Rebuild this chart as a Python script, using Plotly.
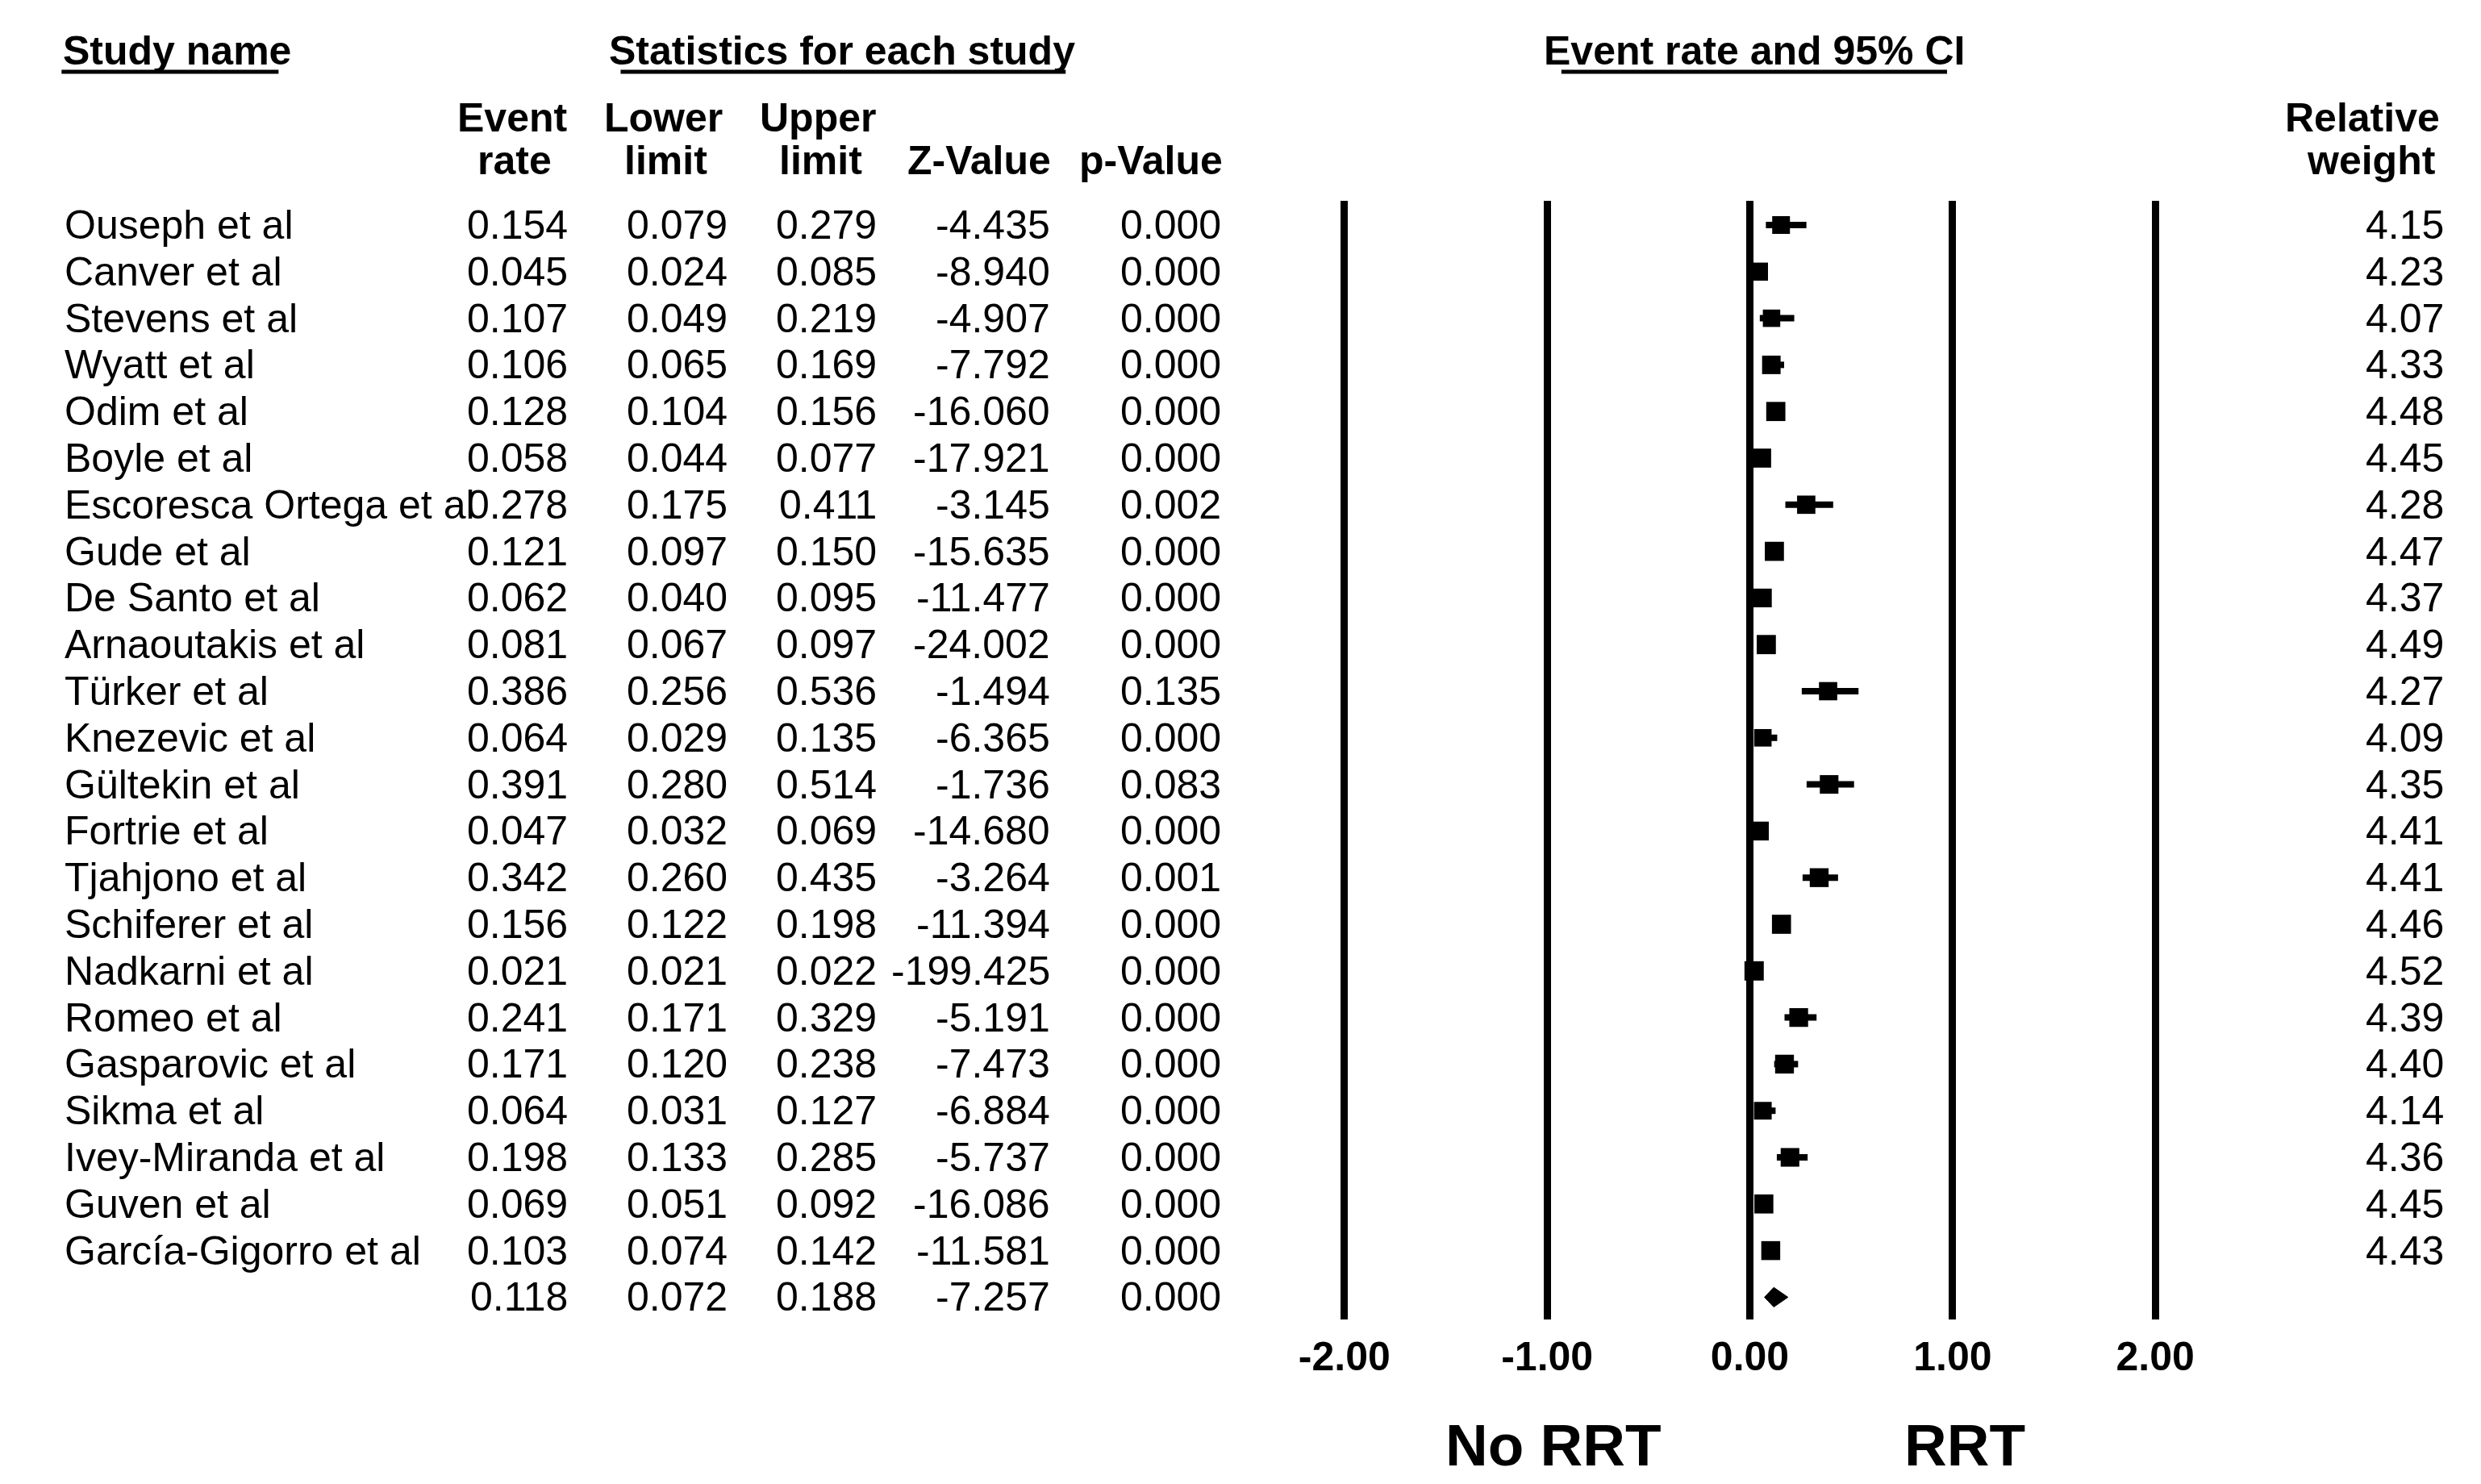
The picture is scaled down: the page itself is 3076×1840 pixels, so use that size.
import plotly.graph_objects as go

W, H = 3076, 1840

studies = ["Ouseph et al", "Canver et al", "Stevens et al", "Wyatt et al", "Odim et al",
           "Boyle et al", "Escoresca Ortega et al", "Gude et al", "De Santo et al",
           "Arnaoutakis et al", "Türker et al", "Knezevic et al", "Gültekin et al",
           "Fortrie et al", "Tjahjono et al", "Schiferer et al", "Nadkarni et al",
           "Romeo et al", "Gasparovic et al", "Sikma et al", "Ivey-Miranda et al",
           "Guven et al", "García-Gigorro et al"]
event_rate = [0.154, 0.045, 0.107, 0.106, 0.128, 0.058, 0.278, 0.121, 0.062, 0.081, 0.386,
              0.064, 0.391, 0.047, 0.342, 0.156, 0.021, 0.241, 0.171, 0.064, 0.198, 0.069, 0.103]
lower_limit = [0.079, 0.024, 0.049, 0.065, 0.104, 0.044, 0.175, 0.097, 0.040, 0.067, 0.256,
               0.029, 0.280, 0.032, 0.260, 0.122, 0.021, 0.171, 0.120, 0.031, 0.133, 0.051, 0.074]
upper_limit = [0.279, 0.085, 0.219, 0.169, 0.156, 0.077, 0.411, 0.150, 0.095, 0.097, 0.536,
               0.135, 0.514, 0.069, 0.435, 0.198, 0.022, 0.329, 0.238, 0.127, 0.285, 0.092, 0.142]
z_value = [-4.435, -8.940, -4.907, -7.792, -16.060, -17.921, -3.145, -15.635, -11.477, -24.002,
           -1.494, -6.365, -1.736, -14.680, -3.264, -11.394, -199.425, -5.191, -7.473, -6.884,
           -5.737, -16.086, -11.581]
p_value = [0.000, 0.000, 0.000, 0.000, 0.000, 0.000, 0.002, 0.000, 0.000, 0.000, 0.135, 0.000,
           0.083, 0.000, 0.001, 0.000, 0.000, 0.000, 0.000, 0.000, 0.000, 0.000, 0.000]
rel_weight = [4.15, 4.23, 4.07, 4.33, 4.48, 4.45, 4.28, 4.47, 4.37, 4.49, 4.27, 4.09, 4.35,
              4.41, 4.41, 4.46, 4.52, 4.39, 4.40, 4.14, 4.36, 4.45, 4.43]

summary_rate = 0.118
summary_lower = 0.072
summary_upper = 0.188
summary_z = -7.257
summary_p = 0.000

tick_values = [-2, -1, 0, 1, 2]
tick_labels = [f"{v:.2f}" for v in tick_values]

FONT = "Liberation Sans, Arial, sans-serif"
FS = 50

n = len(studies)
rows = list(range(n))
summary_row = n

fig = go.Figure()

# study squares with CI bars
fig.add_trace(go.Scatter(
    x=event_rate, y=rows, mode="markers",
    marker=dict(symbol="square", color="black", opacity=1,
                size=[5.3 * w for w in rel_weight], line=dict(width=0)),
    error_x=dict(type="data", symmetric=False,
                 array=[u - e for u, e in zip(upper_limit, event_rate)],
                 arrayminus=[e - l for e, l in zip(event_rate, lower_limit)],
                 color="black", thickness=8, width=0),
    showlegend=False, hoverinfo="skip"))

# summary diamond
dh = 0.21
fig.add_trace(go.Scatter(
    x=[summary_lower, summary_rate, summary_upper, summary_rate, summary_lower],
    y=[summary_row, summary_row - dh, summary_row, summary_row + dh, summary_row],
    mode="lines", fill="toself", fillcolor="black", line=dict(color="black", width=1),
    showlegend=False, hoverinfo="skip"))

def px(x):
    return x / W

def py(y):
    return 1 - y / H

ann = []
def add(text, x, y, anchor="left", size=FS, bold=False, yref="paper"):
    t = f"<b>{text}</b>" if bold else text
    ann.append(dict(text=t, x=x, y=y, xref="paper", yref=yref, xanchor=anchor,
                    yanchor="middle", showarrow=False,
                    font=dict(family=FONT, size=size, color="black")))

# Titles
add("Study name", px(37), py(55), "left", bold=True)
add("Statistics for each study", px(1023), py(55), "center", bold=True)
add("Event rate and 95% CI", px(2175), py(55), "center", bold=True)

# Column headers
add("Event", px(607), py(138), "center", bold=True)
add("rate", px(609), py(191), "center", bold=True)
add("Lower", px(797), py(138), "center", bold=True)
add("limit", px(800), py(191), "center", bold=True)
add("Upper", px(992), py(138), "center", bold=True)
add("limit", px(996), py(191), "center", bold=True)
add("Z-Value", px(1288), py(191), "right", bold=True)
add("p-Value", px(1505), py(191), "right", bold=True)
add("Relative", px(3042), py(138), "right", bold=True)
add("weight", px(3037), py(191), "right", bold=True)

col_right = [678, 880, 1068, 1287, 1503]
for i in rows:
    add(studies[i], px(39), i, "left", yref="y")
    vals = [f"{event_rate[i]:.3f}", f"{lower_limit[i]:.3f}", f"{upper_limit[i]:.3f}",
            f"{z_value[i]:.3f}", f"{p_value[i]:.3f}"]
    for v, xr in zip(vals, col_right):
        add(v, px(xr), i, "right", yref="y")
    add(f"{rel_weight[i]:.2f}", px(3047), i, "right", yref="y")

svals = [f"{summary_rate:.3f}", f"{summary_lower:.3f}", f"{summary_upper:.3f}",
         f"{summary_z:.3f}", f"{summary_p:.3f}"]
for v, xr in zip(svals, col_right):
    add(v, px(xr), summary_row, "right", yref="y")

add("No RRT", px(1921), py(1783), "center", size=73, bold=True)
add("RRT", px(2440), py(1783), "center", size=73, bold=True)

# underlines
shapes = []
for x0, x1 in [(37, 311), (743, 1305), (1931, 2418)]:
    shapes.append(dict(type="line", xref="paper", yref="paper", x0=px(x0), x1=px(x1),
                       y0=py(81), y1=py(81), line=dict(color="black", width=5)))

x0_px = 2169
unit = 256
rng = [-2.1, 2.1]
dom = [px(x0_px + rng[0] * unit), px(x0_px + rng[1] * unit)]

top_px, bot_px = 241, 1628
row0, rstep = 271, 57.8
y_top = (top_px - row0) / rstep
y_bot = (bot_px - row0) / rstep

fig.update_layout(
    width=W, height=H,
    margin=dict(l=0, r=0, t=0, b=0),
    paper_bgcolor="white", plot_bgcolor="white",
    annotations=ann, shapes=shapes,
    xaxis=dict(domain=dom, range=rng, tickvals=tick_values, ticktext=tick_labels,
               showgrid=True, gridcolor="black", gridwidth=9,
               zeroline=True, zerolinecolor="black", zerolinewidth=9,
               showline=False, ticks="", ticklabelstandoff=12,
               tickfont=dict(family=FONT, size=FS, color="black", weight="bold"),
               fixedrange=True),
    yaxis=dict(domain=[py(bot_px), py(top_px)], range=[y_bot, y_top],
               showgrid=False, zeroline=False, showticklabels=False, showline=False,
               ticks="", fixedrange=True),
)

fig.write_html("out.html")
